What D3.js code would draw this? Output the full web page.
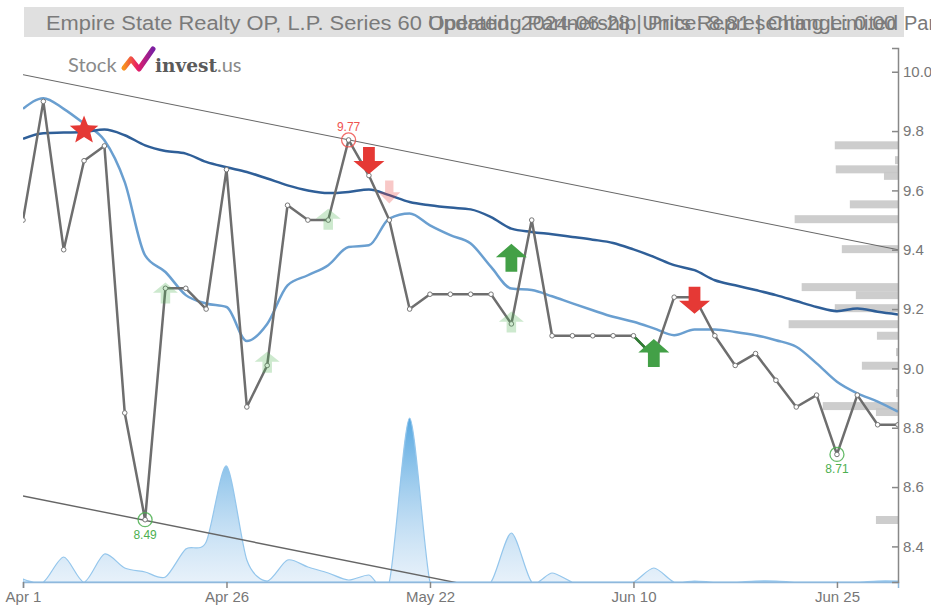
<!DOCTYPE html>
<html><head><meta charset="utf-8">
<script src="https://cdn.jsdelivr.net/npm/d3@7"></script>
<style>body{margin:0;background:#fff;} svg{display:block;font-family:"Liberation Sans",Arial,sans-serif;}</style>
</head><body><svg id="c" width="931" height="610"></svg>
<script>
// ---------------- data ----------------
const tickIndex  = [0, 10, 20, 30, 40];
const tickLabels = ["Apr 1", "Apr 26", "May 22", "Jun 10", "Jun 25"];
const priceTicks = [8.4, 8.6, 8.8, 9.0, 9.2, 9.4, 9.6, 9.8, 10.0];

const price = [9.50, 9.90, 9.40, 9.70, 9.75, 8.85, 8.49, 9.27, 9.27, 9.20,
               9.67, 8.87, 9.01, 9.55, 9.50, 9.50, 9.77, 9.65, 9.50, 9.20,
               9.25, 9.25, 9.25, 9.25, 9.15, 9.50, 9.11, 9.11, 9.11, 9.11,
               9.11, 9.04, 9.24, 9.24, 9.11, 9.01, 9.05, 8.96, 8.87, 8.91,
               8.71, 8.91, 8.81, 8.81];

const maLong = [9.774, 9.793, 9.795, 9.797, 9.805, 9.786, 9.752, 9.733, 9.724, 9.696,
                9.678, 9.662, 9.640, 9.617, 9.600, 9.591, 9.595, 9.603, 9.584, 9.561,
                9.550, 9.542, 9.536, 9.510, 9.471, 9.460, 9.452, 9.443, 9.434, 9.423,
                9.401, 9.376, 9.348, 9.331, 9.297, 9.280, 9.264, 9.247, 9.227, 9.207,
                9.193, 9.202, 9.191, 9.182];

const maShort = [9.875, 9.911, 9.875, 9.825, 9.769, 9.628, 9.381, 9.325, 9.247, 9.219,
                 9.207, 9.092, 9.150, 9.280, 9.314, 9.348, 9.409, 9.415, 9.505, 9.522,
                 9.482, 9.449, 9.421, 9.342, 9.269, 9.264, 9.243, 9.219, 9.196, 9.174,
                 9.157, 9.135, 9.112, 9.131, 9.131, 9.123, 9.112, 9.095, 9.073, 9.017,
                 8.955, 8.916, 8.888, 8.854];

const volume = [3, 0, 25, 0, 28, 14, 10, 5, 33, 40,
                116, 22, 1, 22, 15, 9, 2, 7, 0, 164,
                0, 0, 0, 0, 49, 0, 9, 0, 0, 0,
                0, 14, 0, 1, 0, 0, 1, 1, 0, 0,
                0, 0, 1, 1];

const profilePrice  = [9.752, 9.702, 9.671, 9.649, 9.553, 9.503, 9.402, 9.274, 9.247,
                       9.203, 9.149, 9.110, 9.055, 9.009, 8.917, 8.873, 8.853, 8.489];
const profileVolume = [63, 3, 62, 14, 48, 103, 56, 96, 42,
                       63, 109, 21, 2, 36, 2, 75, 22, 22];

const upperTrend = [[0, 9.99], [43, 9.40]];
const lowerTrend = [[0, 8.57], [43, 7.98]];

const sigIndex = [3, 17, 18, 7, 12, 15, 24, 24, 31, 33];
const sigValue = [9.802, 9.701, 9.595, 9.254, 9.021, 9.503, 9.156, 9.373, 9.052, 9.230];
const sigType  = ["star", "down", "downPale", "upPale", "upPale", "upPale", "upPale", "up", "up", "down"];

const extIndex = [16, 6, 40];
const extType  = ["high", "low", "low"];

const titleParts = ["Empire State Realty OP, L.P. Series 60 ",
                    "Operating Partnership Units Representing Limited ",
                    "Partnership Interests"];
const updText = "Updated: 2024-06-28 | Price: 8.81 | Change: 0.00";

// ---------------- layout ----------------
const svg = d3.select("#c");
const L = 23, R = 898, T = 48, B = 582;

const x = d3.scaleLinear().domain([0, price.length - 1]).range([L, R]);
const y = d3.scaleLinear().domain([8.28, 10.08]).range([B, T]);
const vy = d3.scaleLinear().domain([0, d3.max(volume)]).range([B, B - (B - T) * 0.307]);
const pw = d3.scaleLinear().domain([0, d3.max(profileVolume)]).range([0, (R - L) * 0.125]);

const defs = svg.append("defs");
defs.append("clipPath").attr("id", "plot").append("rect")
  .attr("x", L).attr("y", T).attr("width", R - L).attr("height", B - T);
const vg = defs.append("linearGradient").attr("id", "volg")
  .attr("gradientUnits", "userSpaceOnUse").attr("x1", 0).attr("x2", 0)
  .attr("y1", vy(d3.max(volume))).attr("y2", B);
vg.append("stop").attr("offset", "0%").attr("stop-color", "#4ea3df").attr("stop-opacity", 0.95);
vg.append("stop").attr("offset", "100%").attr("stop-color", "#cfe3f5").attr("stop-opacity", 0.5);
const lg = defs.append("linearGradient").attr("id", "logog")
  .attr("x1", 0).attr("x2", 1).attr("y1", 0).attr("y2", 0);
lg.append("stop").attr("offset", "0%").attr("stop-color", "#f7931e");
lg.append("stop").attr("offset", "45%").attr("stop-color", "#e91e63");
lg.append("stop").attr("offset", "100%").attr("stop-color", "#7b1fa2");

// title
svg.append("rect").attr("x", 24).attr("y", 7).attr("width", 880).attr("height", 30).attr("fill", "#e0e0e0");
const tt = svg.append("text").attr("x", 46).attr("y", 30).attr("font-size", 20).attr("fill", "#7a7a7a");
tt.append("tspan").attr("textLength", 382).attr("lengthAdjust", "spacingAndGlyphs").text(titleParts[0]);
tt.append("tspan").attr("x", 428).attr("textLength", 476).attr("lengthAdjust", "spacingAndGlyphs").text(titleParts[1]);
tt.append("tspan").attr("x", 904).text(titleParts[2]);
svg.append("text").attr("x", 428).attr("y", 30).attr("font-size", 20).attr("fill", "#7a7a7a")
  .attr("textLength", 468).attr("lengthAdjust", "spacingAndGlyphs").text(updText);

// logo
const logo = svg.append("g");
logo.append("text").attr("x", 68).attr("y", 72).attr("font-family", "Lato, sans-serif")
  .attr("font-size", 20).attr("fill", "#8a8a8a").text("Stock");
logo.append("polyline").attr("points", "124,68 131,59 139,69 153,49")
  .attr("fill", "none").attr("stroke", "url(#logog)").attr("stroke-width", 5)
  .attr("stroke-linejoin", "round").attr("stroke-linecap", "round");
logo.append("text").attr("x", 155).attr("y", 72).attr("font-family", "'DejaVu Serif', serif")
  .attr("font-weight", "bold").attr("font-size", 19).attr("fill", "#5a5a5a")
  .attr("textLength", 62).attr("lengthAdjust", "spacingAndGlyphs").text("invest");
logo.append("text").attr("x", 217).attr("y", 72).attr("font-family", "Lato, sans-serif")
  .attr("font-size", 20).attr("fill", "#8a8a8a").text(".us");

const plot = svg.append("g").attr("clip-path", "url(#plot)");

// volume area
plot.append("path").datum(volume)
  .attr("d", d3.area().x((d, i) => x(i)).y0(B).y1(d => vy(d)).curve(d3.curveCardinal.tension(0.2)))
  .attr("fill", "url(#volg)").attr("stroke", "#94c6ec").attr("stroke-width", 1.2);

// volume-by-price bars
plot.selectAll("rect.pb").data(profilePrice).enter().append("rect")
  .attr("x", (d, i) => R - pw(profileVolume[i])).attr("y", d => y(d) - 4)
  .attr("width", (d, i) => pw(profileVolume[i])).attr("height", 8)
  .attr("fill", "#c8c8c8").attr("opacity", 0.9);

// trend lines
[upperTrend, lowerTrend].forEach((t, k) => {
  plot.append("line").attr("x1", x(t[0][0])).attr("y1", y(t[0][1]))
    .attr("x2", x(t[1][0])).attr("y2", y(t[1][1]))
    .attr("stroke", "#666").attr("stroke-width", k ? 1.4 : 1);
});

// moving averages
const ln = d3.line().x((d, i) => x(i)).y(d => y(d)).curve(d3.curveMonotoneX);
plot.append("path").datum(maShort).attr("d", ln).attr("fill", "none")
  .attr("stroke", "#6a9fd0").attr("stroke-width", 2.5);
plot.append("path").datum(maLong).attr("d", ln).attr("fill", "none")
  .attr("stroke", "#2f5f98").attr("stroke-width", 2.5);

// price line
const pl = d3.line().x((d, i) => x(i)).y(d => y(d));
plot.append("path").datum(price).attr("d", pl).attr("fill", "none")
  .attr("stroke", "#6e6e6e").attr("stroke-width", 2.5).attr("stroke-linejoin", "round");
plot.append("path").datum(price.slice(30, 32)).attr("d", d3.line().x((d, i) => x(30 + i)).y(d => y(d)))
  .attr("stroke", "#2e7d32").attr("stroke-width", 2.5);
plot.selectAll("circle.pt").data(price).enter().append("circle")
  .attr("cx", (d, i) => x(i)).attr("cy", d => y(d)).attr("r", 2.3)
  .attr("fill", "#fff").attr("stroke", "#777").attr("stroke-width", 1);

// signals
function arrow(cx, cy, w, h, up) {
  const s = up ? -1 : 1, sw = w * 0.38;
  const tip = cy + s * h / 2, base = cy - s * h / 2, mid = cy + s * h * 0.02;
  return `M${cx},${tip} L${cx + w / 2},${mid} L${cx + sw / 2},${mid} L${cx + sw / 2},${base} ` +
         `L${cx - sw / 2},${base} L${cx - sw / 2},${mid} L${cx - w / 2},${mid} Z`;
}
function star(cx, cy, ro, ri) {
  let p = "";
  for (let k = 0; k < 10; k++) {
    const r = k % 2 ? ri : ro, a = -Math.PI / 2 + k * Math.PI / 5;
    p += (k ? "L" : "M") + (cx + r * Math.cos(a)) + "," + (cy + r * Math.sin(a));
  }
  return p + "Z";
}
sigIndex.forEach((idx, k) => {
  const cx = x(idx), cy = y(sigValue[k]), t = sigType[k];
  let d, fill, op = 1;
  if (t === "star") { d = star(cx, cy, 15, 6.5); fill = "#e53935"; }
  else if (t === "down") { d = arrow(cx, cy, 31, 27, false); fill = "#e53935"; }
  else if (t === "up") { d = arrow(cx, cy, 31, 28, true); fill = "#43a047"; }
  else if (t === "downPale") { d = arrow(cx, cy, 22, 23, false); fill = "#e53935"; op = 0.28; }
  else { d = arrow(cx, cy, 25, 21, true); fill = "#4caf50"; op = 0.28; }
  svg.append("path").attr("d", d).attr("fill", fill).attr("opacity", op);
});

// extremes
extIndex.forEach((idx, k) => {
  const hi = extType[k] === "high", col = hi ? "#ef5350" : "#4caf50";
  svg.append("circle").attr("cx", x(idx)).attr("cy", y(price[idx])).attr("r", 7)
    .attr("fill", "none").attr("stroke", col).attr("stroke-width", 1.3).attr("opacity", 0.85);
  svg.append("text").attr("x", x(idx)).attr("y", y(price[idx]) + (hi ? -9 : 19))
    .attr("text-anchor", "middle").attr("font-size", 12).attr("fill", col)
    .text(price[idx].toFixed(2));
});

// axes
const xa = svg.append("g").attr("transform", `translate(0,${B})`)
  .call(d3.axisBottom(x).tickValues(tickIndex).tickFormat((d, i) => tickLabels[i]).tickSizeOuter(6));
const ya = svg.append("g").attr("transform", `translate(${R},0)`)
  .call(d3.axisRight(y).tickValues(priceTicks).tickFormat(d3.format(".1f"))
        .tickSizeInner(-6).tickSizeOuter(-6).tickPadding(5));
[xa, ya].forEach(a => {
  a.selectAll("path,line").attr("stroke", "#888").attr("stroke-width", 1.5);
  a.selectAll("text").attr("fill", "#777").attr("font-size", 15)
    .attr("font-family", "'Liberation Sans', Arial, sans-serif");
});
xa.select("path").attr("stroke", "#8fb8dc");
</script></body></html>
